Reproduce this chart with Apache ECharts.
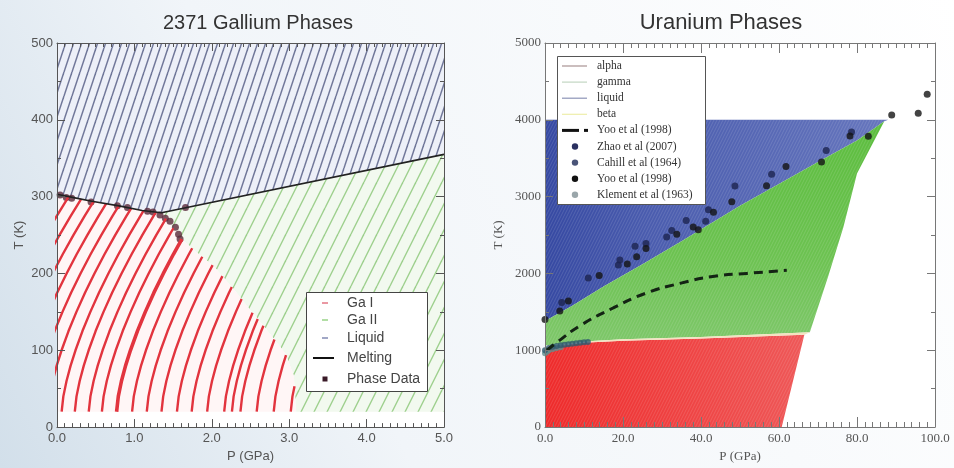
<!DOCTYPE html>
<html><head><meta charset="utf-8">
<script src="https://cdn.jsdelivr.net/npm/echarts@6/dist/echarts.min.js"></script>
<style>html,body{margin:0;padding:0;background:#fff}#c{width:954px;height:468px}</style>
</head><body><div id="c"></div>
<script>
// ================= DATA: Gallium (left) =================
const gaTitle = '2371 Gallium Phases';
const gaXTicks = ['0.0', '1.0', '2.0', '3.0', '4.0', '5.0'];
const gaYTicks = ['0', '100', '200', '300', '400', '500'];
const gaXName = 'P (GPa)';
const gaYName = 'T (K)';
// Ga I melting curve (P GPa, T K) up to the triple point
const gaIMelt = [[0, 303], [0.2, 299], [0.45, 294], [0.8, 288], [1.1, 282], [1.35, 279]];
// Ga II melting line from the triple point
const gaIIMelt = [[1.35, 279], [5.0, 355]];
// Ga I / Ga II boundary, from the triple point down
const gaIBoundary = [[1.35, 279], [1.45, 266], [1.6, 246], [1.8, 228], [2.02, 210], [2.28, 180], [2.5, 152], [2.7, 128], [2.95, 96], [3.06, 67], [3.09, 20]];
const gaFloorT = 20;
const gaTopT = 500;
const gaMaxP = 5.0;
const gaPhaseData = [[0.04, 302], [0.12, 299], [0.19, 298], [0.44, 293], [0.78, 288], [0.91, 286], [1.17, 281], [1.24, 280], [1.33, 276], [1.40, 272], [1.46, 268], [1.53, 260], [1.57, 251], [1.59, 245], [1.66, 286]];
// Ga I contour lines: foot pressure at T = 20 K, and the common shape (dP, T)
const gaICurveStarts = [-1.02, -0.84, -0.66, -0.48, -0.30, -0.12, 0.06, 0.23, 0.41, 0.58, 0.77, 0.97, 1.16, 1.35, 1.55, 1.74, 1.94, 2.16, 2.26, 2.37, 2.58, 2.80, 3.02];
const gaICurveShape = [[0, 20], [0.022, 40], [0.063, 60], [0.116, 80], [0.179, 100], [0.269, 125], [0.371, 150], [0.482, 175], [0.604, 200], [0.734, 225], [0.872, 250], [1.018, 275], [1.171, 300], [1.332, 325]];
const gaLegend = ['Ga I', 'Ga II', 'Liquid', 'Melting', 'Phase Data'];

// ================= DATA: Uranium (right) =================
const uTitle = 'Uranium Phases';
const uXTicks = ['0.0', '20.0', '40.0', '60.0', '80.0', '100.0'];
const uYTicks = ['0', '1000', '2000', '3000', '4000', '5000'];
const uXName = 'P (GPa)';
const uYName = 'T (K)';
const uMelt = [[0, 1380], [7, 1580], [15, 1830], [25, 2120], [35, 2420], [50, 2880], [57, 3080], [70, 3450], [80, 3730], [87, 3980]];
const uLiquidTop = [[0, 4000], [88, 4000]];
const uGammaRight = [[87, 3980], [80, 3300], [76.5, 2600], [72.6, 1960], [67.9, 1235]];
const uGammaBottom = [[67.9, 1235], [40, 1172], [20, 1142], [11, 1116], [0, 1060]];
const uAlphaTop = [[0, 1030], [11, 1100], [20, 1122], [40, 1152], [66.5, 1200]];
const uAlphaRight = [[60.7, 0], [66.5, 1200]];
const uYooLine = [[0.5, 1000], [3, 1100], [9, 1320], [17.5, 1550], [26, 1745], [34.6, 1870], [43, 1960], [51.8, 2000], [62, 2040]];
const uZhao = [[4.3, 1620], [11.1, 1940], [18.8, 2111], [19.2, 2175], [23.1, 2355], [25.9, 2389], [31.2, 2474], [32.5, 2560], [36.2, 2688], [41.2, 2680], [41.9, 2829], [48.7, 3137], [58.1, 3290], [72.1, 3599], [78.6, 3841]];
const uCahill = [[0, 1000], [1, 1030], [2, 1045], [3, 1055], [4, 1065], [5, 1070], [6, 1078], [7, 1085], [8, 1090], [9, 1097], [10, 1103], [11, 1108]];
const uYooPts = [[0, 1400], [3.8, 1510], [6, 1640], [13.9, 1974], [21.1, 2124], [23.5, 2218], [25.9, 2325], [33.8, 2509], [39.3, 2568], [38, 2603], [43.2, 2795], [47.9, 2932], [56.8, 3140], [61.8, 3393], [70.9, 3449], [78.2, 3790], [82.9, 3786], [88.9, 4064], [95.7, 4086], [98, 4333]];
const uKlement = [[0, 960], [0.5, 980], [1, 1000], [2, 1015], [3, 1030], [4, 1040]];
const uLegend = ['alpha', 'gamma', 'liquid', 'beta', 'Yoo et al (1998)', 'Zhao et al (2007)', 'Cahill et al (1964)', 'Yoo et al (1998)', 'Klement et al (1963)'];

// ================= helpers =================
function interp(arr, xk, yk, v) {
  for (let i = 0; i < arr.length - 1; i++) {
    const a = arr[i], b = arr[i + 1];
    if ((v >= a[xk] && v <= b[xk]) || (v <= a[xk] && v >= b[xk])) {
      const t = b[xk] === a[xk] ? 0 : (v - a[xk]) / (b[xk] - a[xk]);
      return a[yk] + t * (b[yk] - a[yk]);
    }
  }
  return null;
}
function gaITop(P) {
  if (P <= gaIMelt[0][0]) return gaIMelt[0][1];
  const last = gaIMelt[gaIMelt.length - 1];
  if (P >= last[0]) return last[1];
  return interp(gaIMelt, 0, 1, P);
}
function gaIRight(T) {
  if (T >= gaIBoundary[0][1]) return Infinity;
  if (T < gaIBoundary[gaIBoundary.length - 1][1]) return -Infinity;
  return interp(gaIBoundary, 1, 0, T);
}
function inGaI(P, T) { return T >= gaFloorT - 1e-9 && T <= gaITop(P) && P <= gaIRight(T); }
function gaICurve(x0) {
  const pts = []; let prev = null;
  for (const [dp, T] of gaICurveShape) {
    const p = [x0 + dp, T];
    if (inGaI(p[0], p[1])) { pts.push(p); prev = p; }
    else {
      if (prev) {
        let a = prev, b = p;
        for (let k = 0; k < 30; k++) {
          const m = [(a[0] + b[0]) / 2, (a[1] + b[1]) / 2];
          if (inGaI(m[0], m[1])) a = m; else b = m;
        }
        pts.push(a);
      }
      break;
    }
  }
  return pts;
}
function hatch(w, h, bg, line, lw) {
  const c = document.createElement('canvas'); c.width = w; c.height = h;
  const g = c.getContext('2d');
  if (bg) { g.fillStyle = bg; g.fillRect(0, 0, w, h); }
  g.strokeStyle = line; g.lineWidth = lw;
  for (const off of [-w, 0, w]) { g.beginPath(); g.moveTo(off, h); g.lineTo(off + w, 0); g.stroke(); }
  return { image: c, repeat: 'repeat' };
}
function polySeries(xi, yi, pts, fill, overlay) {
  return {
    type: 'custom', xAxisIndex: xi, yAxisIndex: yi, silent: true, animation: false, clip: true,
    data: pts, encode: { x: 0, y: 1 },
    renderItem: function (params, api) {
      if (params.dataIndex !== 0) return null;
      const points = pts.map(p => api.coord(p));
      const children = [{ type: 'polygon', shape: { points: points }, style: { fill: fill } }];
      if (overlay) children.push({ type: 'polygon', shape: { points: points }, style: { fill: overlay } });
      return { type: 'group', children: children };
    }
  };
}
const LG = echarts.graphic.LinearGradient;

// ================= regions =================
const gaLiquidPoly = [...gaIMelt, gaIIMelt[1], [gaMaxP, gaTopT], [0, gaTopT]];
const gaIIPoly = [...gaIBoundary, [gaMaxP, gaFloorT], gaIIMelt[1]];
const gaIPoly = [[0, gaFloorT], [0, gaIMelt[0][1]], ...gaIMelt.slice(1), ...gaIBoundary.slice(1)];

const uLiquidPoly = [uMelt[0], ...uLiquidTop, ...uMelt.slice().reverse()];
const uGammaPoly = [...uMelt, ...uGammaRight.slice(1), ...uGammaBottom.slice(1)];
const uAlphaPoly = [[0, 0], ...uAlphaRight, ...uAlphaTop.slice().reverse()];
const uBetaPoly = [...uAlphaTop.slice(1), uGammaRight[uGammaRight.length - 1], ...uGammaBottom.slice(1, -1)];

const texture = hatch(3, 6, null, 'rgba(255,255,255,0.16)', 0.8);

const series = [
  polySeries(0, 0, gaLiquidPoly, hatch(8, 24, '#edf0f8', '#6f7698', 1.5)),
  polySeries(0, 0, gaIIPoly, hatch(13, 26, '#f2f9ef', '#9ccf8c', 1.4)),
  polySeries(0, 0, gaIPoly, '#fff6f6')
];
gaICurveStarts.forEach(x0 => {
  const pts = gaICurve(x0);
  if (pts.length < 2) return;
  series.push({
    type: 'line', name: 'Ga I', xAxisIndex: 0, yAxisIndex: 0, data: pts, symbol: 'none', silent: true, animation: false, clip: true,
    lineStyle: { color: '#e2343e', width: Math.abs(x0 - 0.77) < 1e-6 ? 3.6 : 2.4 }
  });
});
series.push({
  type: 'line', name: 'Melting', xAxisIndex: 0, yAxisIndex: 0, data: [...gaIMelt, gaIIMelt[1]], symbol: 'none', silent: true, animation: false,
  lineStyle: { color: '#222', width: 1.6 }
});
series.push({
  type: 'scatter', name: 'Phase Data', xAxisIndex: 0, yAxisIndex: 0, data: gaPhaseData, symbol: 'circle', symbolSize: 7, silent: true, animation: false,
  itemStyle: { color: '#5a2a3b' }
});

// Uranium
series.push(polySeries(2, 2, uLiquidPoly, new LG(0, 0, 1, 0, [{ offset: 0, color: '#3649a2' }, { offset: 0.3, color: '#4a5cae' }, { offset: 1, color: '#6676bd' }]), texture));
series.push(polySeries(2, 2, uGammaPoly, new LG(0, 0, 0, 1, [{ offset: 0, color: '#5cbd3e' }, { offset: 0.6, color: '#6cc251' }, { offset: 1, color: '#7ec76a' }]), texture));
series.push(polySeries(2, 2, uAlphaPoly, new LG(0, 0, 1, 0, [{ offset: 0, color: '#ee2b2b' }, { offset: 0.6, color: '#ef4646' }, { offset: 1, color: '#ee5858' }]), texture));
series.push(polySeries(2, 2, uBetaPoly, '#f4e2c0'));
series.push({ type: 'scatter', name: 'Klement et al (1963)', xAxisIndex: 2, yAxisIndex: 2, data: uKlement, symbolSize: 6, silent: true, animation: false, itemStyle: { color: '#5f8f8e' } });
series.push({ type: 'scatter', name: 'Cahill et al (1964)', xAxisIndex: 2, yAxisIndex: 2, data: uCahill, symbolSize: 6, silent: true, animation: false, itemStyle: { color: '#2f5a6e' } });
series.push({ type: 'line', name: 'Yoo et al (1998) line', xAxisIndex: 2, yAxisIndex: 2, data: uYooLine, symbol: 'none', smooth: true, silent: true, animation: false, lineStyle: { color: '#142414', width: 3, type: [9, 6] } });
series.push({ type: 'scatter', name: 'Zhao et al (2007)', xAxisIndex: 2, yAxisIndex: 2, data: uZhao, symbolSize: 7, silent: true, animation: false, itemStyle: { color: '#1d2450' } });
series.push({ type: 'scatter', name: 'Yoo et al (1998)', xAxisIndex: 2, yAxisIndex: 2, data: uYooPts, symbolSize: 7, silent: true, animation: false, clip: false, itemStyle: { color: '#141414' } });

// ================= axes =================
const sans = '"Liberation Sans", Arial, sans-serif';
const serif = '"Liberation Serif", "Times New Roman", serif';
function xAx(grid, min, max, interval, labels, pos, name, font, lineColor, majorLen, minorSplit, nameGap) {
  return {
    type: 'value', gridIndex: grid, min: min, max: max, interval: interval, position: pos, z: 10,
    axisLine: { show: true, onZero: false, lineStyle: { color: lineColor, width: 1 } },
    axisTick: { show: true, inside: true, length: majorLen, lineStyle: { color: lineColor } },
    minorTick: { show: true, splitNumber: minorSplit, length: Math.round(majorLen / 2), lineStyle: { color: lineColor } },
    splitLine: { show: false }, minorSplitLine: { show: false },
    axisLabel: { show: pos === 'bottom', formatter: v => labels[Math.round((v - min) / interval)], color: '#555', fontFamily: font, fontSize: 13, margin: 5, showMinLabel: true, showMaxLabel: true },
    name: pos === 'bottom' ? name : '', nameLocation: 'middle', nameGap: nameGap,
    nameTextStyle: { color: '#555', fontFamily: font, fontSize: 13 }
  };
}
function yAx(grid, min, max, interval, labels, pos, name, font, lineColor, majorLen, minorSplit, nameGap) {
  return {
    type: 'value', gridIndex: grid, min: min, max: max, interval: interval, position: pos, z: 10,
    axisLine: { show: true, onZero: false, lineStyle: { color: lineColor, width: 1 } },
    axisTick: { show: true, inside: true, length: majorLen, lineStyle: { color: lineColor } },
    minorTick: { show: true, splitNumber: minorSplit, length: Math.round(majorLen / 2), lineStyle: { color: lineColor } },
    splitLine: { show: false }, minorSplitLine: { show: false },
    axisLabel: { show: pos === 'left', formatter: v => labels[Math.round((v - min) / interval)], color: '#555', fontFamily: font, fontSize: 13, margin: 4 },
    name: pos === 'left' ? name : '', nameLocation: 'middle', nameGap: nameGap, nameRotate: 90,
    nameTextStyle: { color: '#555', fontFamily: font, fontSize: 13 }
  };
}

// ================= legends (drawn as graphic) =================
const graphics = [];
graphics.push({ type: 'rect', z: 100, shape: { x: 306.5, y: 292.5, width: 121, height: 99 }, style: { fill: '#fff', stroke: '#444', lineWidth: 1 } });
const gaLegY = [303, 320, 338, 358, 379];
const gaDash = ['#e57f8c', '#9fd68f', '#8a92b8'];
gaLegend.forEach((t, i) => {
  const y = gaLegY[i];
  if (i < 3) graphics.push({ type: 'rect', z: 101, shape: { x: 322, y: y - 0.8, width: 6, height: 1.6 }, style: { fill: gaDash[i] } });
  else if (i === 3) graphics.push({ type: 'line', z: 101, shape: { x1: 313, y1: y, x2: 334, y2: y }, style: { stroke: '#111', lineWidth: 2 } });
  else graphics.push({ type: 'rect', z: 101, shape: { x: 322.5, y: y - 2.5, width: 5, height: 5 }, style: { fill: '#3a1a28' } });
  graphics.push({ type: 'text', z: 101, x: 347, y: y, style: { text: t, fill: '#444', font: '14px ' + sans, verticalAlign: 'middle' } });
});
graphics.push({ type: 'rect', z: 100, shape: { x: 557.5, y: 56.5, width: 148, height: 148 }, style: { fill: '#fff', stroke: '#555', lineWidth: 1 } });
const uLineCols = ['#a89292', '#c2d6c2', '#8c94b6', '#eeeeaa'];
const uDotCols = ['#2a3060', '#4a5478', '#111', '#9aa6aa'];
uLegend.forEach((t, i) => {
  const y = 66 + 16.1 * i;
  if (i < 4) graphics.push({ type: 'line', z: 101, shape: { x1: 562, y1: y, x2: 587, y2: y }, style: { stroke: uLineCols[i], lineWidth: 1.2 } });
  else if (i === 4) {
    graphics.push({ type: 'line', z: 101, shape: { x1: 562, y1: y, x2: 579, y2: y }, style: { stroke: '#111', lineWidth: 3 } });
    graphics.push({ type: 'line', z: 101, shape: { x1: 584, y1: y, x2: 588, y2: y }, style: { stroke: '#111', lineWidth: 3 } });
  } else graphics.push({ type: 'circle', z: 101, shape: { cx: 575, cy: y, r: 3.2 }, style: { fill: uDotCols[i - 5] } });
  graphics.push({ type: 'text', z: 101, x: 597, y: y, style: { text: t, fill: '#333', font: '11.5px ' + serif, verticalAlign: 'middle' } });
});

const option = {
  animation: false,
  backgroundColor: new LG(0, 1, 1, 0, [{ offset: 0, color: '#d2dfea' }, { offset: 0.35, color: '#f1f5f9' }, { offset: 1, color: '#ffffff' }]),
  title: [
    { text: gaTitle, left: 253, top: 8, textAlign: 'center', textStyle: { fontFamily: sans, fontSize: 20, fontWeight: 'normal', color: '#333' } },
    { text: uTitle, left: 716, top: 7, textAlign: 'center', textStyle: { fontFamily: sans, fontSize: 22, fontWeight: 'normal', color: '#333' } }
  ],
  grid: [
    { left: 57, top: 43, width: 387, height: 386, show: true, backgroundColor: '#fff', borderWidth: 0 },
    { left: 545, top: 43, width: 390, height: 390, show: true, backgroundColor: '#fff', borderWidth: 0 }
  ],
  xAxis: [
    xAx(0, 0, 5, 1, gaXTicks, 'bottom', gaXName, sans, '#555', 8, 10, 22),
    xAx(0, 0, 5, 1, gaXTicks, 'top', '', sans, '#555', 8, 10, 22),
    xAx(1, 0, 100, 20, uXTicks, 'bottom', uXName, serif, '#777', 10, 10, 23),
    xAx(1, 0, 100, 20, uXTicks, 'top', '', serif, '#777', 10, 10, 23)
  ],
  yAxis: [
    yAx(0, 0, 500, 100, gaYTicks, 'left', gaYName, sans, '#555', 8, 2, 31),
    yAx(0, 0, 500, 100, gaYTicks, 'right', '', sans, '#555', 8, 2, 31),
    yAx(1, 0, 5000, 1000, uYTicks, 'left', uYName, serif, '#777', 8, 2, 40),
    yAx(1, 0, 5000, 1000, uYTicks, 'right', '', serif, '#777', 8, 2, 40)
  ],
  series: series,
  graphic: graphics
};
const chart = echarts.init(document.getElementById('c'), null, { renderer: 'canvas', width: 954, height: 468 });
chart.setOption(option);
</script></body></html>
